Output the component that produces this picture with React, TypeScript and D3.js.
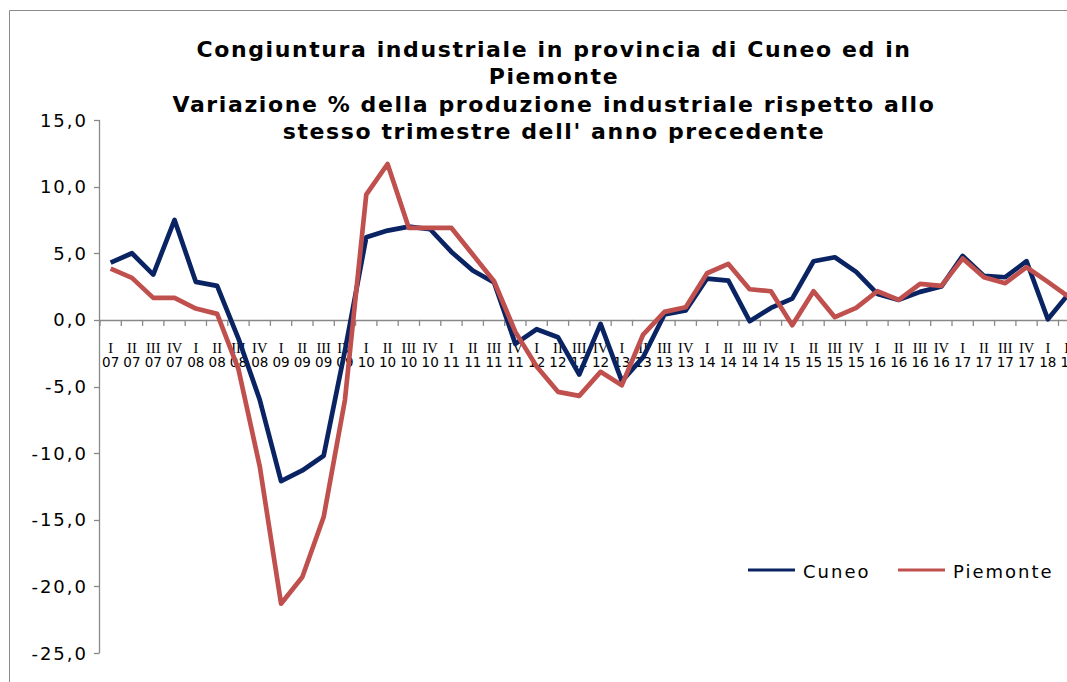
import React from "react";
import * as d3 from "d3";

const quarters = ["I","II","III","IV","I","II","III","IV","I","II","III","IV","I","II","III","IV","I","II","III","IV","I","II","III","IV","I","II","III","IV","I","II","III","IV","I","II","III","IV","I","II","III","IV","I","II","III","IV","I","II"];
const years = ["07","07","07","07","08","08","08","08","09","09","09","09","10","10","10","10","11","11","11","11","12","12","12","12","13","13","13","13","14","14","14","14","15","15","15","15","16","16","16","16","17","17","17","17","18","18"];

const cuneo = [4.3,5.0,3.4,7.5,2.85,2.55,-1.4,-6.0,-12.1,-11.3,-10.2,-2.3,6.2,6.7,7.0,6.8,5.1,3.7,2.8,-1.8,-0.7,-1.3,-4.1,-0.3,-4.6,-2.8,0.4,0.7,3.1,2.95,-0.1,0.9,1.6,4.4,4.7,3.6,1.95,1.5,2.1,2.5,4.8,3.3,3.2,4.4,0.05,2.0];
const piemonte = [3.85,3.15,1.65,1.65,0.85,0.45,-3.7,-11.0,-21.3,-19.3,-14.8,-6.0,9.4,11.7,6.9,6.9,6.9,4.9,2.9,-0.9,-3.5,-5.4,-5.7,-3.9,-4.9,-1.1,0.6,0.95,3.5,4.2,2.3,2.15,-0.4,2.15,0.2,0.9,2.15,1.5,2.7,2.55,4.6,3.2,2.75,3.95,2.85,1.7];

const yTicks = [15,10,5,0,-5,-10,-15,-20,-25];
const titleLines = [
  "Congiuntura industriale in provincia di Cuneo ed in",
  "Piemonte",
  "Variazione % della produzione industriale rispetto allo",
  "stesso trimestre dell' anno precedente",
];
const seriesNames = ["Cuneo","Piemonte"];
const colors = ["#0A2463","#C0504D"];

export default function App() {
  const W = 1067, H = 682;
  const step = 21.3;
  const x0 = 100;
  const idx = quarters.map((_, i) => i);
  const x = d3.scaleBand<number>().domain(idx).range([x0, x0 + step * idx.length]).paddingInner(0).paddingOuter(0);
  const y = d3.scaleLinear().domain([-25, 15]).range([653, 120]);
  const cx = (i: number) => (x(i) as number) + x.bandwidth() / 2;
  const line = d3.line<number>().x((_, i) => cx(i)).y((d) => y(d));
  const axisColor = "#898989";
  const fmt = (v: number) => v.toFixed(1).replace(".", ",");
  const bounds = d3.range(idx.length + 1).map((k) => x0 + k * x.bandwidth());

  return (
    <svg width={W} height={H} style={{ position: "absolute", left: 0, top: 0, background: "#fff" }}>
      <rect x={0} y={0} width={W} height={H} fill="#fff" />
      <line x1={9.5} y1={10.5} x2={W} y2={10.5} stroke="#8a8a8a" strokeWidth={1} />
      <line x1={9.5} y1={10.5} x2={9.5} y2={H} stroke="#8a8a8a" strokeWidth={1} />
      {titleLines.map((t, i) => (
        <text key={i} x={554} y={56.5 + i * 27.5} textAnchor="middle" fontFamily="DejaVu Sans" fontWeight="bold" fontSize={22} letterSpacing={1.6} fill="#000">{t}</text>
      ))}
      {/* y axis */}
      <line x1={99.5} y1={y(15)} x2={99.5} y2={y(-25)} stroke={axisColor} strokeWidth={1.3} />
      {yTicks.map((t) => (
        <g key={t}>
          <line x1={94} x2={99.5} y1={Math.round(y(t)) + 0.5} y2={Math.round(y(t)) + 0.5} stroke={axisColor} strokeWidth={1.3} />
          <text x={88} y={y(t) + 6.5} textAnchor="end" fontFamily="DejaVu Sans" fontSize={18} letterSpacing={2} fill="#000">{fmt(t)}</text>
        </g>
      ))}
      {/* x axis */}
      <line x1={99.5} x2={W} y1={Math.round(y(0)) + 0.5} y2={Math.round(y(0)) + 0.5} stroke={axisColor} strokeWidth={1.3} />
      {bounds.map((b, k) => (
        <line key={k} x1={b} x2={b} y1={y(0)} y2={y(0) + 6} stroke={axisColor} strokeWidth={1.3} />
      ))}
      {idx.map((i) => (
        <g key={i}>
          <text x={cx(i)} y={353} textAnchor="middle" fontFamily="Liberation Serif" fontSize={14.5} fill="#000">{quarters[i]}</text>
          <text x={cx(i)} y={367} textAnchor="middle" fontFamily="DejaVu Sans" fontSize={13.5} fill="#000">{years[i]}</text>
        </g>
      ))}
      {/* lines */}
      <path d={line(cuneo) || ""} fill="none" stroke={colors[0]} strokeWidth={4.7} strokeLinejoin="round" />
      <path d={line(piemonte) || ""} fill="none" stroke={colors[1]} strokeWidth={4.7} strokeLinejoin="round" />
      {/* legend */}
      {seriesNames.map((n, i) => (
        <g key={n}>
          <line x1={748 + i * 150} x2={795 + i * 150} y1={570} y2={570} stroke={colors[i]} strokeWidth={3} />
          <text x={803 + i * 150} y={578} fontFamily="DejaVu Sans" fontSize={18} letterSpacing={2} fill="#000">{n}</text>
        </g>
      ))}
    </svg>
  );
}
